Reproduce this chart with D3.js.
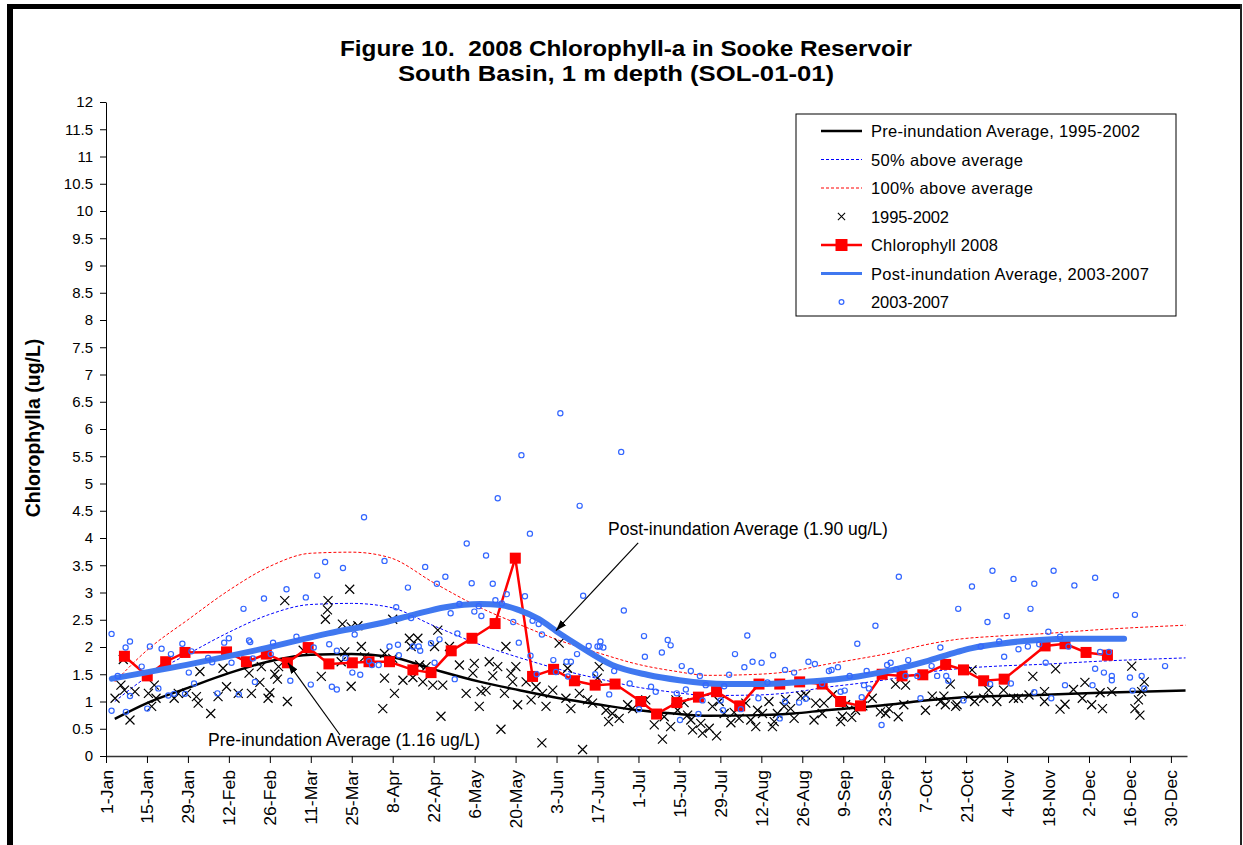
<!DOCTYPE html>
<html>
<head>
<meta charset="utf-8">
<script src="https://cdnjs.cloudflare.com/ajax/libs/d3/7.8.5/d3.min.js"></script>
<style>
  body { margin: 0; background: #fff; }
  text { font-family: "Liberation Sans", Arial, sans-serif; }
</style>
</head>
<body>
<script>
// 2008 chlorophyll-a, Sooke Reservoir south basin. x = day of year (0 = 1-Jan)

var titleLines = ["Figure 10.  2008 Chlorophyll-a in Sooke Reservoir", "South Basin, 1 m depth (SOL-01-01)"];
var yTitle = "Chlorophylla (ug/L)";

var tickLabels = ["1-Jan","15-Jan","29-Jan","12-Feb","26-Feb","11-Mar","25-Mar","8-Apr","22-Apr","6-May",
  "20-May","3-Jun","17-Jun","1-Jul","15-Jul","29-Jul","12-Aug","26-Aug","9-Sep","23-Sep","7-Oct",
  "21-Oct","4-Nov","18-Nov","2-Dec","16-Dec","30-Dec"];
var tickDays = tickLabels.map(function(d, i) { return i * 14; });
var yTicks = d3.range(0, 12.01, 0.5);

var seriesNames = ["Pre-inundation Average, 1995-2002", "50% above average", "100% above average",
  "1995-2002", "Chlorophyll 2008", "Post-inundation Average, 2003-2007", "2003-2007"];

// smoothed averages [day, ug/L]
var preAvg = [[3,0.68],[14,0.97],[28,1.25],[42,1.52],[56,1.74],[70,1.86],[84,1.87],[97,1.82],[112,1.59],
  [128,1.36],[141,1.21],[155,1.06],[169,0.94],[182,0.84],[194,0.78],[206,0.74],[223,0.75],[235,0.78],
  [246,0.84],[257,0.89],[269,0.95],[280,1.02],[291,1.07],[305,1.10],[319,1.12],[340,1.16],[369,1.20]];

var above50 = [[3,1.00],[14,1.45],[28,1.87],[42,2.27],[56,2.60],[70,2.78],[84,2.80],[97,2.73],[112,2.39],
  [128,2.04],[141,1.81],[155,1.59],[169,1.41],[182,1.26],[194,1.17],[206,1.11],[223,1.12],[235,1.17],
  [246,1.26],[257,1.33],[269,1.42],[280,1.53],[291,1.60],[305,1.65],[319,1.68],[340,1.74],[369,1.80]];

var above100 = [[3,1.36],[14,1.94],[28,2.50],[42,3.04],[56,3.48],[70,3.72],[84,3.74],[97,3.64],[112,3.18],
  [128,2.72],[141,2.42],[155,2.12],[169,1.88],[182,1.68],[194,1.56],[206,1.48],[223,1.50],[235,1.56],
  [246,1.68],[257,1.78],[269,1.90],[280,2.04],[291,2.14],[305,2.20],[319,2.24],[340,2.32],[369,2.40]];

var postAvg = [[2,1.42],[30,1.70],[53,1.96],[76,2.25],[95,2.45],[105,2.59],[116,2.73],[128,2.79],[135,2.77],
  [141,2.68],[148,2.51],[155,2.25],[162,2.01],[173,1.67],[185,1.49],[196,1.39],[212,1.32],[223,1.32],
  [235,1.35],[246,1.39],[257,1.46],[269,1.58],[280,1.73],[291,1.91],[296,1.98],[307,2.07],[319,2.13],
  [330,2.15],[348,2.15]];

var chl2008 = [[6.3,1.83],[14.1,1.47],[20.4,1.73],[27.0,1.90],[41.2,1.91],[48.0,1.73],[54.8,1.87],[62.0,1.71],
  [69.1,1.99],[76.2,1.69],[84.2,1.71],[89.9,1.73],[96.9,1.73],[104.9,1.58],[111.1,1.53],[118.0,1.93],
  [125.1,2.16],[133.0,2.43],[139.9,3.63],[145.8,1.46],[153.0,1.59],[160.1,1.38],[167.2,1.30],[174.0,1.32],
  [182.8,1.00],[188.2,0.77],[195.1,0.98],[202.5,1.08],[208.7,1.18],[216.6,0.92],[223.2,1.32],[230.3,1.32],
  [237.1,1.36],[244.8,1.32],[251.1,1.00],[257.9,0.92],[265.3,1.50],[272.1,1.47],[279.2,1.49],[287.0,1.68],
  [293.1,1.58],[300.0,1.38],[307.0,1.41],[321.0,2.02],[327.8,2.06],[335.0,1.90],[342.3,1.85]];

// individual samples
var obs9502 = [[3.1,1.06],[5.9,1.77],[5.1,1.30],[6.3,1.21],[8.2,0.66],[9.9,1.18],[14.5,1.15],[16.5,1.30],
  [15.6,0.91],[17.1,1.06],[23.3,1.06],[24.7,1.15],[27.5,1.15],[30.9,1.09],[31.5,0.97],[32.1,1.55],[35.8,0.78],
  [38.3,1.09],[40.0,1.61],[41.2,1.27],[45.2,1.15],[48.9,1.52],[49.7,1.15],[52.6,1.35],[53.1,1.64],[55.4,1.06],
  [56.0,1.16],[57.7,1.50],[58.6,1.41],[59.0,1.64],[61.1,2.85],[62.0,1.00],[67.4,1.94],[73.6,1.46],[75.9,2.85],
  [75.7,2.68],[75.0,2.51],[80.8,2.42],[83.3,3.06],[80.4,1.73],[81.6,1.91],[83.8,2.37],[86.1,2.39],[83.8,1.28],
  [87.3,2.01],[88.4,1.82],
  [98.0,2.51],[95.2,1.88],[98.0,1.79],[95.2,1.43],[98.6,1.15],[94.6,0.87],[103.7,2.16],[106.6,2.16],[104.3,2.01],
  [101.5,1.39],[104.9,1.44],[107.2,1.67],[109.4,1.64],[108.3,1.36],[111.7,1.30],[113.4,2.31],[112.3,2.01],
  [115.1,1.30],[114.5,0.73],[117.4,2.01],[120.8,1.67],[123.1,1.15],[125.4,1.52],[125.9,1.70],[128.2,1.18],
  [129.9,1.21],[127.6,0.91],[131.0,1.73],[132.2,1.47],[133.9,1.64],[136.7,2.01],[136.2,1.15],[135.0,0.49],
  [138.4,1.52],[140.1,1.64],[139.0,1.36],[140.7,0.94],[143.6,1.36],[145.3,1.03],[147.0,1.27],[149.2,1.15],
  [150.4,0.91],[152.7,1.21],[154.9,2.07],[157.8,1.61],[157.2,1.06],[158.9,0.87],[160.6,1.39],[161.8,1.15],
  [162.9,0.12],[164.6,1.03],[166.3,0.97],[168.6,1.64],[168.0,1.43],[170.9,0.84],[171.8,0.63],[173.1,0.78],
  [175.4,0.69],[178.3,0.94],[180.0,0.87],[183.4,1.00],[184.5,1.03],[187.4,0.57],[190.2,0.31],[190.8,0.72],
  [194.8,1.03],[193.0,0.54],[149.0,0.24],
  [195.4,0.84],[197.6,0.98],[198.8,0.75],[200.5,0.48],[199.9,0.66],[203.3,0.60],[203.9,0.42],[206.2,0.51],
  [208.7,0.37],[207.3,0.91],[209.6,1.00],[211.3,0.78],[213.6,0.61],[214.7,0.80],[216.4,0.69],[218.7,0.97],
  [220.4,0.66],[222.1,0.54],[222.7,0.84],[224.4,0.78],[226.6,1.00],[228.4,0.63],[227.8,0.54],[229.5,0.78],
  [231.8,0.91],[232.3,1.04],[234.0,0.87],[235.2,0.69],[237.5,1.10],[239.2,1.12],[242.0,0.66],[242.6,0.97],
  [245.4,0.97],[244.8,0.78],[248.3,1.12],[251.1,0.63],[251.7,0.73],[252.8,0.94],[254.9,0.71],[256.2,0.84],
  [258.7,0.92],[261.9,1.06],[264.7,0.81],[266.5,0.78],[267.6,0.87],[269.9,1.32],[270.8,0.72],[273.3,1.30],
  [272.7,0.94],[280.1,0.84],[282.4,1.10],[285.2,1.00],[286.4,1.10],[288.6,1.32],[290.4,0.91],
  [286.9,0.94],[290.9,0.94],[294.8,1.10],[296.9,1.00],[296.0,1.58],[300.0,1.06],[301.7,1.21],[304.5,1.00],
  [306.8,1.21],[310.2,1.06],[311.9,1.06],[315.5,1.12],[316.8,1.46],[320.8,1.18],[320.8,1.00],[324.6,1.60],
  [326.1,0.86],[327.8,0.95],[330.7,1.22],[333.7,1.06],[334.6,1.35],[336.9,0.94],[339.8,1.16],[340.6,0.87],
  [343.8,1.18],[350.6,1.65],[351.7,0.87],[352.9,1.03],[353.4,0.75],[354.9,1.36],[354.0,1.18]];

var obs0307 = [[1.9,2.24],[1.9,0.83],[4.0,1.47],[6.7,1.99],[8.2,2.10],[8.2,1.10],[6.8,0.81],[12.2,1.64],
  [14.1,0.87],[15.0,2.01],[17.9,1.24],[19.0,1.97],[21.3,1.11],[22.2,1.87],[23.3,1.14],[26.1,2.06],[27.0,1.14],
  [28.3,1.53],[29.2,1.92],[30.1,1.33],[34.9,1.80],[36.3,1.72],[38.1,1.15],[40.4,2.08],[42.0,2.16],[42.9,1.71],
  [45.4,1.13],[47.0,2.70],[48.9,2.12],[49.3,2.09],[50.2,1.79],[50.9,1.36],[54.0,2.89],[56.3,1.87],[57.1,2.08],
  [61.7,3.06],[63.0,1.38],[65.1,2.19],[68.3,2.91],[70.0,1.31],[71.0,1.99],[72.2,3.31],[74.9,3.56],[76.3,2.05],
  [77.2,1.27],[78.9,1.22],[78.9,1.93],[81.0,3.45],[81.8,1.80],[84.2,1.53],[85.0,2.23],[86.9,1.49],[88.2,4.38],
  [89.9,1.74],[90.9,1.67],[93.2,1.67],
  [95.2,3.58],[99.2,2.73],[96.9,2.01],[99.8,2.04],[100.1,1.85],[103.2,3.09],[104.3,2.53],[104.9,2.01],
  [106.9,2.01],[107.4,1.93],[109.1,3.47],[111.1,2.07],[112.3,1.71],[113.1,3.16],[114.0,2.14],[116.0,3.29],
  [117.8,2.62],[119.2,1.41],[120.1,2.25],[120.8,2.79],[123.3,3.90],[125.0,3.17],[125.9,2.65],[127.4,2.75],
  [128.3,2.57],[129.9,3.68],[132.2,3.16],[133.1,2.86],[133.9,4.73],[135.3,2.80],[137.0,2.97],[139.2,2.46],
  [141.1,2.08],[142.0,5.52],[143.2,2.93],[144.9,4.08],[145.1,1.84],[145.8,2.48],[147.2,1.50],[147.9,2.42],
  [149.0,2.23],[152.9,1.76],[153.8,1.54],[155.3,6.29],[157.4,1.73],[157.9,1.46],[158.9,1.73],[161.0,1.87],
  [161.9,4.59],[163.1,2.94],[165.0,2.02],[167.2,1.50],[168.0,2.01],[168.8,2.01],[169.0,2.10],[170.0,1.99],
  [172.0,1.13],[173.7,1.56],[176.1,5.58],[177.0,2.67],[179.0,1.33],[182.2,0.86],[183.9,2.20],[184.2,1.82],
  [186.3,1.27],[187.9,1.18],[190.0,1.90],[192.0,2.13],[193.0,2.03],[195.1,1.15],
  [196.2,0.66],[196.8,1.65],[198.2,1.22],[199.9,1.56],[202.5,0.77],[203.0,1.47],[203.9,1.02],[205.0,1.30],
  [210.1,1.02],[210.9,0.84],[211.3,1.28],[213.0,1.49],[215.0,1.87],[217.0,0.86],[218.2,1.63],[219.2,2.21],
  [221.0,1.73],[223.0,1.06],[224.1,1.71],[226.1,1.35],[228.0,1.85],[230.3,0.69],[232.1,1.00],[232.1,1.58],
  [235.2,1.53],[236.9,0.98],[239.2,1.05],[240.1,1.73],[242.3,1.69],[244.8,1.32],[247.1,1.56],[248.0,1.58],
  [250.2,1.63],[251.1,1.18],[252.5,1.20],[254.2,1.47],[256.8,2.06],[258.3,1.08],[259.1,1.30],[260.0,1.56],
  [260.8,1.24],[263.0,2.39],[265.1,0.57],[267.0,1.67],[268.2,1.71],[270.1,1.59],[271.0,3.29],[273.3,1.47],
  [274.2,1.76],[277.3,1.47],[278.4,1.06],[282.2,1.65],[284.1,1.47],[285.2,1.99],[287.2,1.47],[287.9,1.38],
  [291.3,2.70],
  [293.1,1.02],[296.0,3.11],[299.0,2.01],[301.3,2.46],[302.2,1.32],[303.0,3.40],[305.3,2.10],[307.0,1.82],
  [307.9,2.57],[309.3,1.33],[310.2,3.25],[311.9,1.96],[315.1,2.01],[316.0,2.70],[317.3,3.16],[317.3,1.17],
  [319.0,2.05],[321.2,1.71],[322.1,2.28],[323.1,1.06],[323.9,3.40],[326.1,2.19],[327.8,1.30],[329.0,2.01],
  [331.0,3.13],[337.2,1.30],[338.1,3.27],[338.1,1.60],[339.8,1.91],[341.1,1.53],[342.8,1.91],[343.8,1.47],
  [343.8,1.39],[345.2,2.95],[350.0,1.44],[350.9,1.20],[351.7,2.59],[354.0,1.47],[354.9,1.24],[362.0,1.65]];

// callouts: text anchor and arrow tail -> head, in data units
var callouts = [
  {text: "Post-inundation Average (1.90 ug/L)", at: [171.6, 4.06], from: [181.9, 3.91], to: [153.8, 2.30]},
  {text: "Pre-inundation Average (1.16 ug/L)", at: [34.9, 0.18], from: [80.0, 0.385], to: [62.2, 1.71]}
];

var W = 1243, H = 845;
var margin = {top: 102, right: 56, bottom: 89, left: 106},
    width = W - margin.left - margin.right,
    height = H - margin.top - margin.bottom;

var root = d3.select("body").append("svg")
    .attr("width", W)
    .attr("height", H);

root.append("rect").attr("width", W).attr("height", H).attr("fill", "#fff");

// frame
root.append("rect").attr("x", 7).attr("y", 4).attr("width", 6).attr("height", H).attr("fill", "#000");
root.append("rect").attr("x", 7).attr("y", 4).attr("width", 1234).attr("height", 5).attr("fill", "#000");
root.append("rect").attr("x", 1240).attr("y", 4).attr("width", 2).attr("height", H).attr("fill", "#222");

// title
var titleX = [340, 398], titleY = [56, 81], titleW = [572, 436];
root.selectAll(".title").data(titleLines).enter().append("text")
    .attr("class", "title")
    .attr("x", function(d, i) { return titleX[i]; })
    .attr("y", function(d, i) { return titleY[i]; })
    .attr("textLength", function(d, i) { return titleW[i]; })
    .attr("lengthAdjust", "spacingAndGlyphs")
    .style("white-space", "pre")
    .attr("font-size", "22px")
    .attr("font-weight", "bold")
    .text(function(d) { return d; });

root.append("text")
    .attr("transform", "translate(40,428) rotate(-90)")
    .attr("text-anchor", "middle")
    .attr("font-size", "19.5px")
    .attr("font-weight", "bold")
    .text(yTitle);

var svg = root.append("g")
    .attr("transform", "translate(" + margin.left + "," + margin.top + ")");

var x = d3.scaleLinear()
    .domain([0, 369.5])
    .range([0, width]);

var y = d3.scaleLinear()
    .domain([0, 12])
    .range([height, 0]);

// axes
var yAxis = d3.axisLeft(y)
    .tickValues(yTicks)
    .tickSize(6)
    .tickSizeOuter(0)
    .tickFormat(function(d) { return String(d); });

var xAxis = d3.axisBottom(x)
    .tickValues(tickDays)
    .tickSize(7)
    .tickSizeOuter(0)
    .tickFormat(function(d, i) { return tickLabels[i]; });

function customYAxis(g) {
    g.call(yAxis);
    g.select(".domain").attr("stroke", "#000");
    g.selectAll(".tick line").attr("stroke", "#000");
    g.selectAll(".tick text")
        .attr("font-size", "15px")
        .attr("font-family", null)
        .attr("fill", "#000")
        .attr("x", -13);
}

function customXAxis(g) {
    g.call(xAxis);
    g.select(".domain").attr("stroke", "#333").attr("stroke-width", 1.5);
    g.selectAll(".tick line").attr("stroke", "#000");
    g.selectAll(".tick text")
        .attr("font-size", "16px")
        .attr("font-family", null)
        .attr("fill", "#000")
        .attr("x", 0).attr("y", 0).attr("dy", null)
        .attr("text-anchor", "end")
        .attr("transform", "translate(6,14) rotate(-90) scale(1.1,1)");
}

svg.append("g").call(customYAxis);
svg.append("g").attr("transform", "translate(0," + height + ")").call(customXAxis);

var smooth = d3.line()
    .x(function(d) { return x(d[0]); })
    .y(function(d) { return y(d[1]); })
    .curve(d3.curveMonotoneX);

var straight = d3.line()
    .x(function(d) { return x(d[0]); })
    .y(function(d) { return y(d[1]); });

var xMark = "M-4.5,-4.5L4.5,4.5M-4.5,4.5L4.5,-4.5";

svg.append("path").datum(preAvg)
    .attr("d", smooth).attr("fill", "none")
    .attr("stroke", "#000").attr("stroke-width", 2.5);

svg.append("path").datum(above50)
    .attr("d", smooth).attr("fill", "none")
    .attr("stroke", "#0000FF").attr("stroke-width", 1).attr("stroke-dasharray", "3,2");

svg.append("path").datum(above100)
    .attr("d", smooth).attr("fill", "none")
    .attr("stroke", "#FF0000").attr("stroke-width", 1).attr("stroke-dasharray", "3,2");

svg.append("g").selectAll("path").data(obs9502).enter().append("path")
    .attr("transform", function(d) { return "translate(" + x(d[0]) + "," + y(d[1]) + ")"; })
    .attr("d", xMark)
    .attr("stroke", "#000").attr("stroke-width", 1.2).attr("fill", "none");

svg.append("path").datum(chl2008)
    .attr("d", straight).attr("fill", "none")
    .attr("stroke", "#FF0000").attr("stroke-width", 2.5);

svg.append("g").selectAll("rect").data(chl2008).enter().append("rect")
    .attr("x", function(d) { return x(d[0]) - 5.5; })
    .attr("y", function(d) { return y(d[1]) - 5.5; })
    .attr("width", 11).attr("height", 11)
    .attr("fill", "#FF0000");

svg.append("path").datum(postAvg)
    .attr("d", smooth).attr("fill", "none")
    .attr("stroke", "#4078F0").attr("stroke-width", 6)
    .attr("stroke-linecap", "round");

svg.append("g").selectAll("circle").data(obs0307).enter().append("circle")
    .attr("cx", function(d) { return x(d[0]); })
    .attr("cy", function(d) { return y(d[1]); })
    .attr("r", 2.6)
    .attr("fill", "none")
    .attr("stroke", "#3366FF").attr("stroke-width", 1.2);

// callouts
root.append("defs").append("marker")
    .attr("id", "head")
    .attr("viewBox", "0 0 10 10")
    .attr("refX", 10).attr("refY", 5)
    .attr("markerWidth", 11).attr("markerHeight", 11)
    .attr("markerUnits", "userSpaceOnUse")
    .attr("orient", "auto")
  .append("path").attr("d", "M0,1.5L10,5L0,8.5Z").attr("fill", "#000");

var co = svg.append("g").selectAll("g").data(callouts).enter().append("g");
co.append("line")
    .attr("x1", function(d) { return x(d.from[0]); })
    .attr("y1", function(d) { return y(d.from[1]); })
    .attr("x2", function(d) { return x(d.to[0]); })
    .attr("y2", function(d) { return y(d.to[1]); })
    .attr("stroke", "#000").attr("stroke-width", 1.2)
    .attr("marker-end", "url(#head)");
co.append("text")
    .attr("x", function(d) { return x(d.at[0]); })
    .attr("y", function(d) { return y(d.at[1]); })
    .attr("font-size", "17.5px")
    .text(function(d) { return d.text; });

// legend
var lg = root.append("g").attr("transform", "translate(796,114)");
lg.append("rect").attr("width", 380).attr("height", 202)
    .attr("fill", "#fff").attr("stroke", "#000").attr("stroke-width", 1);

var legendW = [269, 152, 162, 78, 127, 278, 78];
var rowY = function(i) { return 17 + i * 28.5; };
var items = lg.selectAll(".item").data(seriesNames).enter().append("g")
    .attr("class", "item")
    .attr("transform", function(d, i) { return "translate(0," + rowY(i) + ")"; });

items.append("text")
    .attr("x", 75).attr("y", 6)
    .attr("font-size", "16.5px")
    .attr("textLength", function(d, i) { return legendW[i]; })
    .attr("lengthAdjust", "spacing")
    .text(function(d) { return d; });

var sample = [
  {stroke: "#000", w: 2.5},
  {stroke: "#0000FF", w: 1, dash: "3,2"},
  {stroke: "#FF0000", w: 1, dash: "3,2"},
  null,
  {stroke: "#FF0000", w: 2.5},
  {stroke: "#4078F0", w: 3},
  null
];
items.each(function(d, i) {
    var g = d3.select(this), s = sample[i];
    if (s) {
        g.append("line").attr("x1", 25).attr("x2", 66)
            .attr("stroke", s.stroke).attr("stroke-width", s.w)
            .attr("stroke-dasharray", s.dash || null);
    }
    if (i === 3) {
        g.append("path").attr("transform", "translate(45.5,0) scale(0.8)").attr("d", xMark)
            .attr("stroke", "#000").attr("stroke-width", 1.3);
    }
    if (i === 4) {
        g.append("rect").attr("x", 39.5).attr("y", -6).attr("width", 12).attr("height", 12).attr("fill", "#FF0000");
    }
    if (i === 6) {
        g.append("circle").attr("cx", 45.5).attr("r", 2.4)
            .attr("fill", "none").attr("stroke", "#3366FF").attr("stroke-width", 1.2);
    }
});
</script>
</body>
</html>
